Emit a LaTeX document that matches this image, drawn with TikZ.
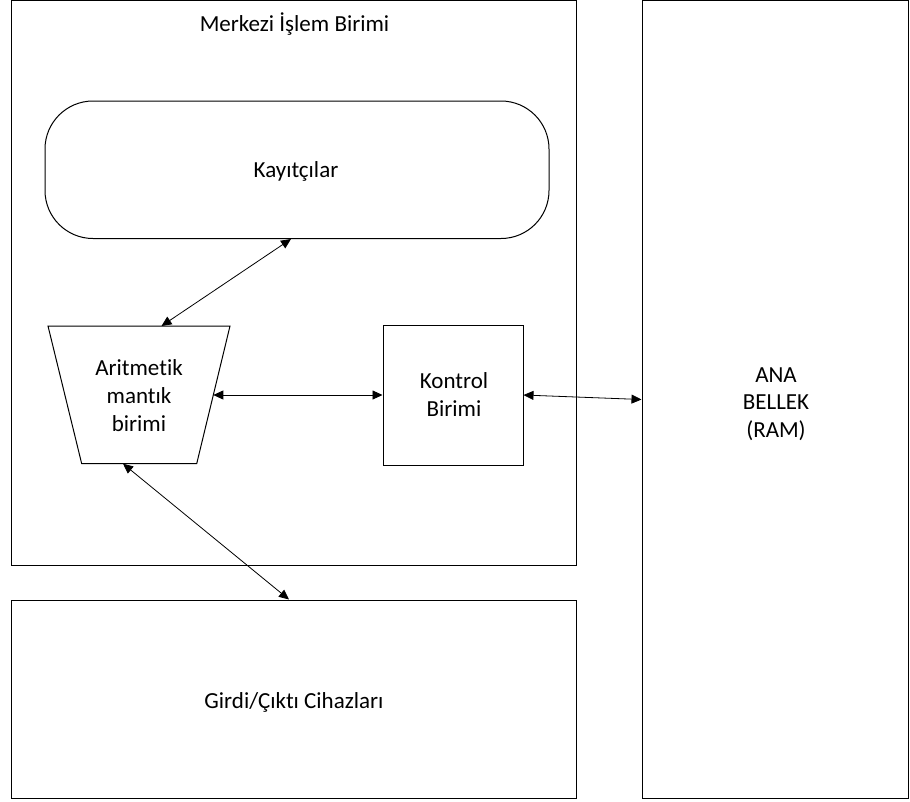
\documentclass[tikz,border=0pt]{standalone}
\usepackage{fontspec}
\setmainfont[Ligatures=NoCommon]{Carlito}
\usetikzlibrary{arrows.meta}
\begin{document}
\begin{tikzpicture}[x=1pt,y=-1pt,
  box/.style={draw, line width=1pt, inner sep=0pt},
  lbl/.style={font=\fontsize{23}{27.6}\selectfont, align=center, inner sep=0pt},
  link/.style={{Triangle[length=10pt,width=9pt]}-{Triangle[length=10pt,width=9pt]}, line width=0.8pt}]
\useasboundingbox (0,0) rectangle (910,801);

% outer blocks
\node[box, minimum width=565pt, minimum height=565pt] (cpu) at (293.5,283) {};
\node[box, minimum width=266.5pt, minimum height=798pt] (ram) at (775.25,399.5) {};
\node[box, minimum width=565pt, minimum height=198.5pt] (io) at (293.5,699.25) {};

% inner blocks
\node[box, rounded corners=48pt, minimum width=504pt, minimum height=137.5pt] (reg) at (297,169.75) {};
\node[box, minimum width=140pt, minimum height=140pt] (ctrl) at (453,395) {};

% arithmetic logic unit (inverted trapezium)
\coordinate (alu-nw) at (48,326);
\coordinate (alu-ne) at (230,326);
\coordinate (alu-se) at (196.7,463.7);
\coordinate (alu-sw) at (81.7,463.7);
\draw[box] (alu-nw) -- (alu-ne) -- (alu-se) -- (alu-sw) -- cycle;
\coordinate (alu-top) at (161.5,326);
\coordinate (alu-right) at (213.3,395);
\coordinate (alu-bottom) at (123,463.7);

% labels
\node[lbl, anchor=base] (cpu-label) at (294.5,31.5) {Merkezi İşlem Birimi};
\node[lbl, anchor=base] (reg-label) at (296,177) {Kayıtçılar};
\node[lbl] (alu-label) at (139,395.5) {Aritmetik\\mantık\\birimi};
\node[lbl] (ctrl-label) at (454,394.5) {Kontrol\\Birimi};
\node[lbl] (ram-label) at (776,404) {ANA\\BELLEK\\(RAM)};
\node[lbl, anchor=base] (io-label) at (294,708) {Girdi/Çıktı Cihazları};

% data paths
\draw[link] ([xshift=-6pt]reg.south) -- (alu-top);
\draw[link] (alu-right) -- (ctrl.west);
\draw[link] (ctrl.east) -- (ram.west);
\draw[link] (alu-bottom) -- ([xshift=-4.5pt]io.north);
\end{tikzpicture}
\end{document}
